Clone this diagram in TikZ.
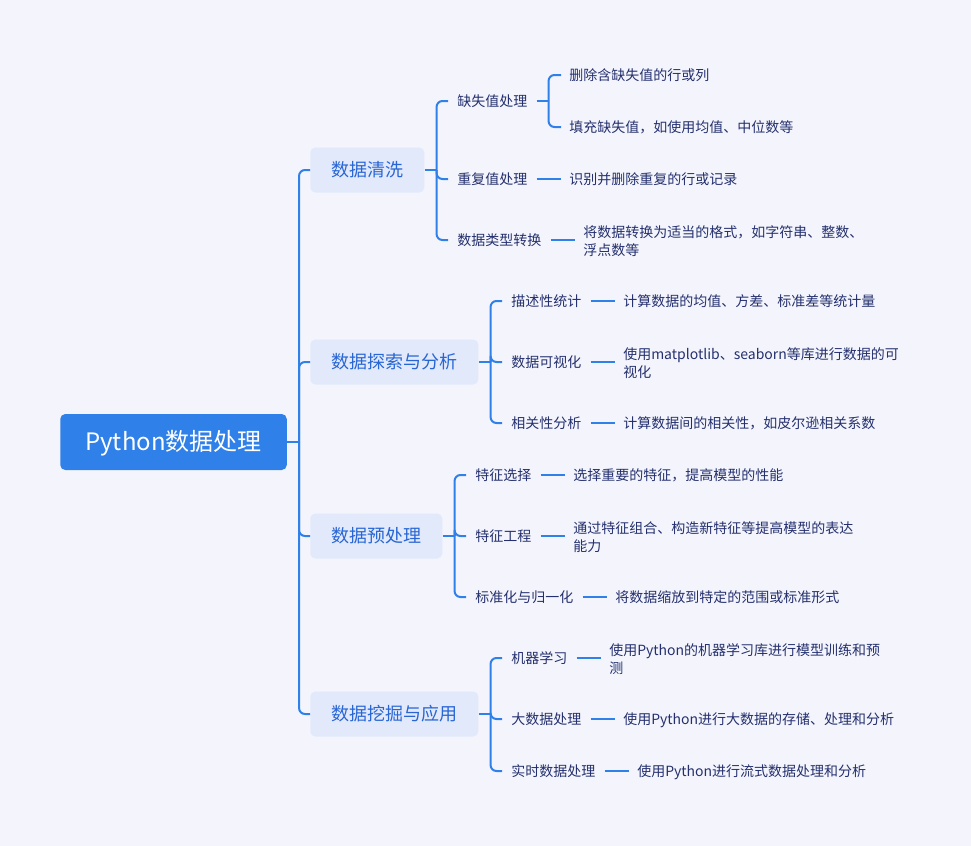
\documentclass[tikz,border=0pt]{standalone}
\usepackage{fontspec}
\setmainfont{Noto Sans CJK SC}
\definecolor{bgc}{HTML}{F4F5FC}
\definecolor{rootc}{HTML}{2F80E9}
\definecolor{lonec}{HTML}{E1E9FB}
\definecolor{lonet}{HTML}{2866D4}
\definecolor{txtc}{HTML}{24306E}
\definecolor{linec}{HTML}{2F80E9}
\newcommand\mylower[2]{\raisebox{-#1}{#2}}
\begin{document}
\begin{tikzpicture}[x=0.75pt,y=-0.75pt,
  rootbox/.style={fill=rootc,text=white,rounded corners=3.75pt,inner xsep=18.75pt,inner ysep=0pt,minimum height=42pt,anchor=west,font=\fontsize{18pt}{22pt}\selectfont,text height=0.78em,text depth=0.22em},
  lonebox/.style={fill=lonec,text=lonet,rounded corners=3.75pt,inner xsep=15.75pt,inner ysep=0pt,minimum height=33.75pt,anchor=west,font=\fontsize{13.5pt}{16pt}\selectfont,text height=0.8em,text depth=0.2em},
  ctext/.style={text=txtc,inner xsep=6.75pt,inner ysep=1pt,anchor=west,font=\fontsize{10.5pt}{13.5pt}\selectfont,text height=0.88em,text depth=0.12em},
  gtext/.style={text=txtc,inner xsep=6pt,inner ysep=1pt,anchor=west,align=left,font=\fontsize{10.5pt}{13.5pt}\selectfont,text height=0.88em,text depth=0.12em},
  gtwo/.style={text=txtc,inner xsep=6pt,inner ysep=1pt,anchor=west,align=left,font=\fontsize{10.5pt}{13.5pt}\selectfont},
  conn/.style={draw=linec,line width=1.5pt},
  rconn/.style={draw=linec,line width=1.5pt,rounded corners=4.5pt}]
\fill[bgc] (0,0) rectangle (971,846);
\useasboundingbox (0,0) rectangle (971,846);

% root
\node[rootbox] (root) at (60,442) {\mylower{3.5pt}{Python数据处理}};
% level 1
\node[lonebox] (l1) at (310,170) {\mylower{1.5pt}{数据清洗}};
\node[lonebox] (l2) at (310,362) {\mylower{1.5pt}{数据探索与分析}};
\node[lonebox] (l3) at (310,536) {\mylower{1.5pt}{数据预处理}};
\node[lonebox] (l4) at (310,714) {\mylower{1.5pt}{数据挖掘与应用}};

% level 2 - group 1
\node[ctext] (c11) at (448,101) {缺失值处理};
\node[ctext] (c12) at (448,179) {重复值处理};
\node[ctext] (c13) at (448,240) {数据类型转换};
\node[gtext] (g111) at (561,75) {删除含缺失值的行或列};
\node[gtext] (g112) at (561,127) {填充缺失值，如使用均值、中位数等};
\node[gtext] (g12) at (561,179) {识别并删除重复的行或记录};
\node[gtwo] (g13) at (575,241) {将数据转换为适当的格式，如字符串、整数、\\浮点数等};

% group 2
\node[ctext] (c21) at (502,301) {描述性统计};
\node[ctext] (c22) at (502,362) {数据可视化};
\node[ctext] (c23) at (502,423) {相关性分析};
\node[gtext] (g21) at (615,301) {计算数据的均值、方差、标准差等统计量};
\node[gtwo] (g22) at (615,363) {使用matplotlib、seaborn等库进行数据的可\\视化};
\node[gtext] (g23) at (615,423) {计算数据间的相关性，如皮尔逊相关系数};

% group 3
\node[ctext] (c31) at (466,475) {特征选择};
\node[ctext] (c32) at (466,536) {特征工程};
\node[ctext] (c33) at (466,597) {标准化与归一化};
\node[gtext] (g31) at (565,475) {选择重要的特征，提高模型的性能};
\node[gtwo] (g32) at (565,537) {通过特征组合、构造新特征等提高模型的表达\\能力};
\node[gtext] (g33) at (607,597) {将数据缩放到特定的范围或标准形式};

% group 4
\node[ctext] (c41) at (502,658) {机器学习};
\node[ctext] (c42) at (502,719) {大数据处理};
\node[ctext] (c43) at (502,771) {实时数据处理};
\node[gtwo] (g41) at (601,659) {使用Python的机器学习库进行模型训练和预\\测};
\node[gtext] (g42) at (615,719) {使用Python进行大数据的存储、处理和分析};
\node[gtext] (g43) at (629,771) {使用Python进行流式数据处理和分析};

% connectors: root
\coordinate (b0) at ([xshift=9pt]root.east);
\draw[conn] (root.east) -- (b0);
\foreach \n in {l1,l2,l3,l4} \draw[rconn] (b0) |- (\n.west);

% level1 -> level2
\coordinate (b1) at ([xshift=9pt]l1.east);
\draw[conn] (l1.east) -- (b1);
\foreach \n in {c11,c12,c13} \draw[rconn] (b1) |- (\n.west);
\coordinate (b2) at ([xshift=9pt]l2.east);
\draw[conn] (l2.east) -- (b2);
\foreach \n in {c21,c22,c23} \draw[rconn] (b2) |- (\n.west);
\coordinate (b3) at ([xshift=9pt]l3.east);
\draw[conn] (l3.east) -- (b3);
\foreach \n in {c31,c32,c33} \draw[rconn] (b3) |- (\n.west);
\coordinate (b4) at ([xshift=9pt]l4.east);
\draw[conn] (l4.east) -- (b4);
\foreach \n in {c41,c42,c43} \draw[rconn] (b4) |- (\n.west);

% level2 -> level3
\coordinate (b11) at ([xshift=9pt]c11.east);
\draw[conn] (c11.east) -- (b11);
\draw[rconn] (b11) |- (g111.west);
\draw[rconn] (b11) |- (g112.west);
\draw[conn] (c12.east) -- (g12.west);
\draw[conn] (c13.east) -- ([yshift=0.75pt]g13.west);
\draw[conn] (c21.east) -- (g21.west);
\draw[conn] (c22.east) -- ([yshift=0.75pt]g22.west);
\draw[conn] (c23.east) -- (g23.west);
\draw[conn] (c31.east) -- (g31.west);
\draw[conn] (c32.east) -- ([yshift=0.75pt]g32.west);
\draw[conn] (c33.east) -- (g33.west);
\draw[conn] (c41.east) -- ([yshift=0.75pt]g41.west);
\draw[conn] (c42.east) -- (g42.west);
\draw[conn] (c43.east) -- (g43.west);
\end{tikzpicture}
\end{document}
